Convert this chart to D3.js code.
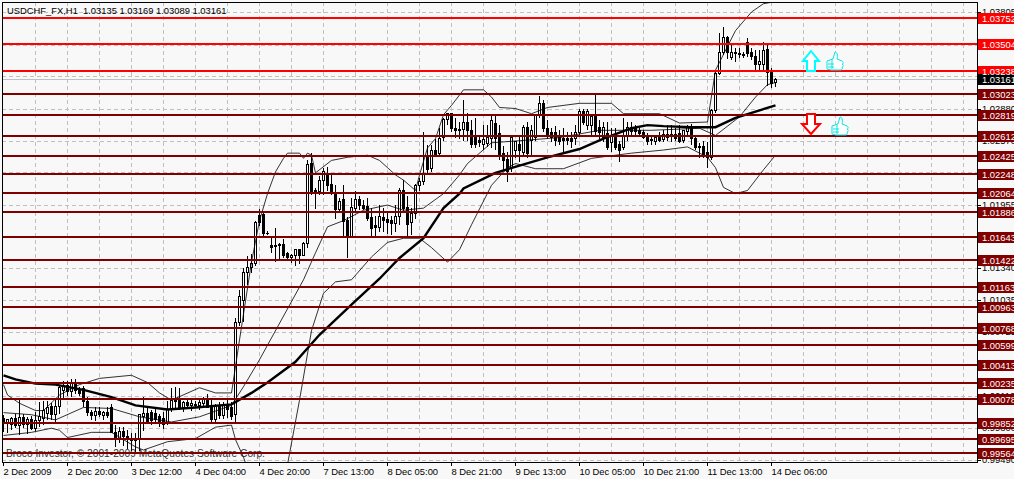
<!DOCTYPE html>
<html><head><meta charset="utf-8"><script src="https://cdn.jsdelivr.net/npm/d3@7/dist/d3.min.js"></script>
<style>html,body{margin:0;padding:0;background:#f8f8f8;overflow:hidden}svg{display:block}text{font-family:"Liberation Sans",sans-serif;font-size:9.4px;white-space:pre}</style></head><body><svg id="c" width="1014" height="479"></svg>
<script>
const title="USDCHF_FX,H1  1.03135 1.03169 1.03089 1.03161";
const credit="Broco Investor, © 2001-2009 MetaQuotes Software Corp.";
const timeLabels=["2 Dec 2009","2 Dec 20:00","3 Dec 12:00","4 Dec 04:00","4 Dec 20:00","7 Dec 13:00","8 Dec 05:00","8 Dec 21:00","9 Dec 13:00","10 Dec 05:00","10 Dec 21:00","11 Dec 13:00","14 Dec 06:00"];
const priceTicks=["1.03805","1.03495","1.03190","1.02880","1.02570","1.02265","1.01955","1.01650","1.01340","1.01035","1.00725","1.00420","1.00110","0.99800","0.99490"];
const resistance=["1.03752","1.03504","1.03238"];
const support=["1.03023","1.02819","1.02612","1.02425","1.02248","1.02064","1.01886","1.01643","1.01422","1.01163","1.00963","1.00768","1.00599","1.00413","1.00235","1.00078","0.99852","0.99695","0.99564"];
const lastPrice="1.03161";
// hourly candles, price x 10000
const opens=[9989,9985,9984,9989,9983,9990,9984,9988,9980,9987,9989,9994,10001,9993,10001,10016,10021,10015,10023,10016,10018,10006,9995,9992,9996,9992,9995,10000,9976,9970,9977,9972,9970,9968,9970,9991,9994,9995,9994,9991,9989,9985,9998,10008,10009,10000,10005,10002,10003,10002,10004,10009,10000,9988,10001,9992,10002,10000,
9993,10082,10103,10130,10135,10139,10185,10186,10168,10156,10156,10157,10157,10148,10144,10146,10152,10146,10158,10235,10209,10208,10219,10225,10215,10206,10191,10200,10180,10165,10192,10200,10195,10194,10183,10175,10173,10183,10181,10180,10177,10184,10209,10193,10178,10187,10214,10218,10241,10230,10248,10245,10260,10277,10283,10269,10268,10268,10275,10267,10262,10257,10253,10254,10259,10274,10264,10245,10239,10231,10248,10253,10246,10270,10257,10260,10282,10293,10269,10265,10265,10260,10259,10259,10259,10259,10265,10285,10272,10272,10280,10270,10260,10264,10255,10260,10253,10250,10262,10270,10270,10267,10265,10260,10258,10256,10260,10258,10263,10261,10263,10264,10257,10266,10270,10259,10251,10251,10246,10241,10286,10322,10342,10356,10337,10342,10341,10340,10352,10342,10338,10330,10330,10345,10323,10313];
const highs=[9993,9989,9991,9994,10009,9994,9991,9992,9996,10005,10006,10006,10004,10008,10022,10025,10025,10027,10027,10020,10021,10010,9998,10000,10000,9997,10000,10003,9983,9981,9981,9978,9975,9975,9994,10010,9999,9998,9999,9994,9996,10006,10019,10020,10019,10006,10009,10007,10006,10008,10010,10013,10008,10003,10005,10005,10007,10005,
10086,10113,10134,10146,10148,10180,10191,10188,10170,10163,10173,10158,10162,10150,10148,10152,10152,10159,10238,10245,10211,10223,10231,10232,10224,10214,10202,10214,10183,10202,10209,10204,10200,10202,10192,10184,10195,10192,10189,10184,10195,10211,10219,10204,10192,10215,10221,10265,10253,10253,10259,10269,10279,10284,10284,10279,10275,10296,10284,10277,10279,10262,10272,10272,10282,10282,10272,10252,10246,10262,10257,10262,10272,10275,10272,10283,10300,10296,10277,10269,10271,10267,10269,10265,10265,10272,10288,10288,10288,10281,10302,10277,10275,10275,10269,10269,10257,10279,10275,10275,10272,10269,10267,10264,10262,10262,10265,10267,10272,10272,10269,10272,10267,10272,10273,10262,10255,10257,10256,10288,10325,10361,10367,10358,10350,10346,10346,10342,10356,10346,10344,10344,10352,10349,10327,10317];
const lows=[9976,9975,9978,9980,9973,9980,9974,9978,9977,9981,9983,9988,9988,9986,9994,10008,10011,10010,10013,10011,10000,9992,9988,9987,9991,9988,9990,9975,9962,9966,9963,9960,9958,9956,9958,9977,9985,9983,9984,9981,9979,9983,9996,9998,9998,9996,9999,9997,10000,9998,10001,9999,9985,9985,9989,9989,9990,9988,
9984,10078,10082,10118,10130,10136,10175,10163,10166,10149,10140,10142,10144,10143,10139,10136,10138,10146,10154,10205,10191,10205,10205,10209,10205,10182,10188,10163,10144,10163,10188,10190,10190,10180,10163,10165,10169,10169,10167,10166,10169,10176,10188,10164,10166,10182,10209,10214,10224,10227,10242,10243,10257,10272,10265,10260,10259,10257,10257,10250,10250,10251,10248,10251,10250,10248,10238,10229,10217,10227,10240,10236,10243,10240,10243,10257,10279,10265,10259,10256,10252,10253,10246,10253,10250,10253,10262,10272,10267,10262,10262,10259,10256,10248,10246,10248,10236,10248,10257,10262,10262,10262,10259,10253,10253,10253,10256,10256,10257,10256,10257,10255,10255,10262,10253,10248,10240,10240,10231,10238,10284,10320,10340,10336,10335,10333,10337,10337,10338,10335,10325,10325,10325,10310,10308,10309];
const closes=[9985,9988,9989,9983,9990,9984,9988,9980,9987,9991,9997,10000,9993,10001,10019,10021,10015,10023,10016,10013,10006,9995,9992,9996,9993,9995,9992,9976,9970,9977,9972,9970,9968,9970,9993,9994,9986,9987,9988,9985,9984,9998,10007,10006,10000,10005,10002,10004,10002,10005,10008,10000,9988,10001,9992,10002,9998,9991,
10082,10107,10130,10135,10139,10178,10178,10168,10168,10154,10155,10156,10146,10144,10146,10152,10146,10158,10234,10208,10206,10219,10227,10214,10207,10191,10198,10179,10165,10193,10200,10195,10192,10182,10172,10173,10184,10180,10178,10177,10184,10209,10192,10176,10187,10214,10218,10224,10229,10248,10244,10259,10277,10283,10269,10267,10267,10275,10267,10253,10253,10255,10258,10260,10276,10259,10243,10238,10227,10260,10256,10248,10270,10245,10267,10282,10293,10269,10262,10260,10257,10256,10257,10257,10256,10265,10285,10275,10285,10280,10266,10265,10270,10250,10262,10250,10248,10262,10270,10266,10266,10264,10260,10256,10257,10260,10257,10263,10260,10263,10259,10256,10267,10270,10259,10250,10250,10243,10241,10286,10322,10342,10356,10342,10342,10341,10340,10339,10341,10338,10330,10333,10344,10323,10312,10316];
// moving average and Bollinger bands: bar index and price x 10000
const maBars=[0,3,8,13,20,27,33,41,48,57,62,66,73,79,87,94,99,105,110,114,115,123,129,136,144,150,157,161,165,172,178,183,193];
const maVals=[10031,10027,10023,10022,10017,10010,10002,9998,10000,10003,10014,10024,10044,10070,10099,10124,10144,10163,10192,10206,10211,10226,10233,10241,10249,10259,10269,10272,10271,10270,10270,10279,10291];
const upperBars=[0,1,4,8,10,14,19,24,32,36,39,42,49,53,57,59,62,64,66,68,70,71,74,75,76,77,78,82,86,91,94,96,98,100,103,104,106,108,110,112,115,120,122,124,128,132,136,144,152,155,164,169,176,178,183,187,190,193];
const upperVals=[10022,10012,10004,9997,9997,10012,10022,10028,10031,10024,10014,10007,10019,10014,10014,10065,10140,10180,10206,10227,10240,10245,10245,10240,10245,10243,10226,10238,10241,10243,10238,10231,10224,10219,10209,10224,10250,10259,10282,10291,10306,10306,10299,10289,10288,10283,10289,10293,10293,10283,10283,10274,10275,10325,10363,10381,10389,10391];
const midBars=[0,7,13,20,27,34,42,49,57,60,64,75,78,81,85,90,96,100,105,110,114,116,122,129,139,149,162,174,178,184,188,191,193];
const midVals=[9995,9993,9988,10000,9999,9991,9986,9991,10002,10020,10046,10123,10149,10174,10180,10190,10195,10190,10192,10206,10224,10235,10255,10257,10260,10267,10267,10269,10262,10280,10299,10311,10313];
const lowerBars=[0,7,12,14,16,22,27,33,35,41,48,53,57,58,60,62,70,71,74,77,80,83,87,92,96,100,104,107,111,114,117,122,126,128,133,140,147,157,165,171,176,178,180,183,186,190,193];
const lowerVals=[9973,9976,9980,9978,9971,9976,9976,9962,9959,9967,9970,9981,9983,9969,9952,9930,9920,9945,10007,10074,10110,10121,10123,10145,10159,10163,10163,10154,10140,10152,10176,10214,10231,10235,10230,10230,10240,10245,10248,10251,10241,10231,10212,10206,10209,10229,10243];

const svg=d3.select("#c");
const x=d3.scaleLinear().domain([0,193]).range([3.5,775.5]);
const y=d3.scaleLinear().domain([0.99564,1.03752]).range([452.7,18]);
const yp=p=>y(p/1e4), frame={l:2,r:977,t:2,b:462};
svg.append("defs").append("clipPath").attr("id","plot").append("rect").attr("x",frame.l).attr("y",frame.t).attr("width",frame.r-frame.l).attr("height",frame.b-frame.t);
const plot=svg.append("g").attr("clip-path","url(#plot)");
// grid
const gridBars=d3.range(8,241,8);
plot.append("g").selectAll("line").data(gridBars).join("line").attr("x1",d=>x(d)).attr("x2",d=>x(d)).attr("y1",frame.t).attr("y2",frame.b).attr("stroke","#c0c0c0").attr("stroke-dasharray","4 3").attr("shape-rendering","crispEdges");
plot.append("g").selectAll("line").data(priceTicks).join("line").attr("x1",frame.l).attr("x2",frame.r).attr("y1",d=>Math.round(y(+d))+.5).attr("y2",d=>Math.round(y(+d))+.5).attr("stroke","#c0c0c0").attr("stroke-dasharray","4 3").attr("shape-rendering","crispEdges");
plot.append("line").attr("x1",frame.l).attr("x2",frame.r).attr("y1",y(+lastPrice)).attr("y2",y(+lastPrice)).attr("stroke","#c0c0c0").attr("shape-rendering","crispEdges");
plot.append("text").attr("x",6).attr("y",457).attr("fill","#333").style("font-size","10.2px").text(credit);
// candles
const idx=d3.range(closes.length);
const g=plot.append("g").attr("shape-rendering","crispEdges");
g.selectAll("line").data(idx).join("line").attr("x1",i=>x(i)).attr("x2",i=>x(i)).attr("y1",i=>yp(highs[i])).attr("y2",i=>yp(lows[i])).attr("stroke","#000");
g.selectAll("rect").data(idx).join("rect").attr("x",i=>x(i)-1).attr("width",2)
 .attr("y",i=>yp(Math.max(opens[i],closes[i]))).attr("height",i=>Math.max(0.6,Math.abs(yp(opens[i])-yp(closes[i]))))
 .attr("fill",i=>closes[i]>=opens[i]?"#fff":"#000").attr("stroke","#000").attr("stroke-width",1);
// lines
const ln=(bars,vals,w)=>plot.append("path").attr("d",d3.line().x((d,i)=>x(bars[i])).y(d=>yp(d))(vals)).attr("fill","none").attr("stroke","#000").attr("stroke-width",w);
ln(upperBars,upperVals,.8);ln(midBars,midVals,.8);ln(lowerBars,lowerVals,.8);ln(maBars,maVals,2.4);
// levels
const levels=[...resistance.map(v=>({v,c:"#ff0000"})),...support.map(v=>({v,c:"#800000"}))];
plot.append("g").selectAll("line").data(levels).join("line").attr("x1",frame.l).attr("x2",frame.r).attr("y1",d=>Math.round(y(+d.v))).attr("y2",d=>Math.round(y(+d.v))).attr("stroke",d=>d.c).attr("stroke-width",2).attr("shape-rendering","crispEdges");
// frame
svg.append("rect").attr("x",frame.l+.5).attr("y",frame.t+.5).attr("width",frame.r-frame.l).attr("height",frame.b-frame.t).attr("fill","none").attr("stroke","#000").attr("shape-rendering","crispEdges");
svg.append("text").attr("x",7).attr("y",14).attr("fill","#000").text(title);
// axes
const lab=svg.append("g");
lab.selectAll("line").data(priceTicks).join("line").attr("x1",frame.r).attr("x2",frame.r+4).attr("y1",d=>Math.round(y(+d))+.5).attr("y2",d=>Math.round(y(+d))+.5).attr("stroke","#000").attr("shape-rendering","crispEdges");
lab.selectAll("text").data(priceTicks).join("text").attr("x",982).attr("y",d=>y(+d)+3).attr("fill","#000").text(d=>d);
const bx=svg.append("g");
const boxes=[...levels,{v:lastPrice,c:"#000"}];
bx.selectAll("rect").data(boxes).join("rect").attr("x",frame.r+1).attr("width",36).attr("y",d=>Math.round(y(+d.v))-5).attr("height",11).attr("fill",d=>d.c);
bx.selectAll("text").data(boxes).join("text").attr("x",982).attr("y",d=>Math.round(y(+d.v))+3.5).attr("fill","#fff").text(d=>d.v);
const tg=svg.append("g");
tg.selectAll("line").data(timeLabels).join("line").attr("x1",(d,i)=>x(i*16)).attr("x2",(d,i)=>x(i*16)).attr("y1",frame.b).attr("y2",frame.b+4).attr("stroke","#000").attr("shape-rendering","crispEdges");
tg.selectAll("text").data(timeLabels).join("text").attr("x",(d,i)=>x(i*16)).attr("y",475).attr("fill","#000").text(d=>d);
// arrows and thumbs
svg.append("path").attr("d","M811,51 L819,61 L815,61 L815,71 L807,71 L807,61 L803,61 Z").attr("fill","#fff").attr("stroke","#00ffff").attr("stroke-width",2);
svg.append("path").attr("d","M807,114 L815,114 L815,124 L820,124 L811,134 L802,124 L807,124 Z").attr("fill","#fff").attr("stroke","#ff0000").attr("stroke-width",2);
const thumb="M0,9 L6,7 L8,0 C10,0 11,3 10,7 L15,9 C17,10 16,12 15,12 C17,13 16,15 15,15 C16,16 15,18 14,18 L4,18 L0,17 Z M1,12 L7,12 M1,15 L7,15 M5,8 L5,17";
[[827,52],[832,117]].forEach(t=>svg.append("path").attr("d",thumb).attr("transform",`translate(${t[0]},${t[1]})`).attr("fill","#fff").attr("stroke","#00e5e5").attr("stroke-width",1));
</script></body></html>
